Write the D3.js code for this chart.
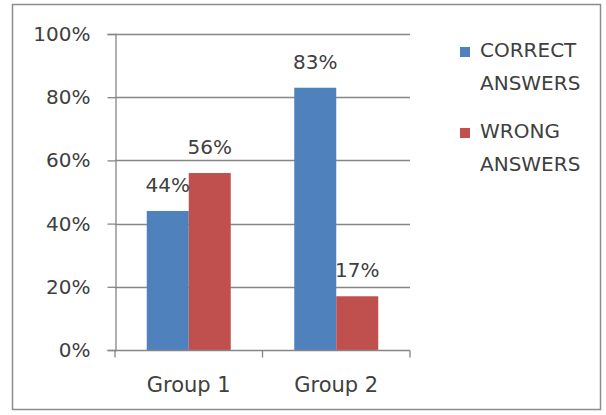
<!DOCTYPE html>
<html>
<head>
<meta charset="utf-8">
<script src="https://cdn.jsdelivr.net/npm/d3@7"></script>
<style>
  html, body { margin: 0; padding: 0; background: #fff; }
  svg { display: block; }
  text { font-family: "DejaVu Sans", "Liberation Sans", Arial, sans-serif; fill: #404040; }
</style>
</head>
<body>
<svg id="chart" width="606" height="415"></svg>
<script>
// Share of answers per group
const groups = ["Group 1", "Group 2"];
const seriesNames = ["CORRECT ANSWERS", "WRONG ANSWERS"];
const correctValues = [44, 83];
const wrongValues = [56, 17];
const yTicks = [0, 20, 40, 60, 80, 100];
const colors = ["#4F81BD", "#C0504D"];

const seriesValues = [correctValues, wrongValues];
const FONT = "DejaVu Sans, Liberation Sans, Arial, sans-serif";

const svg = d3.select("#chart");

// Outer chart frame
svg.append("rect")
  .attr("x", 12.5).attr("y", 4.5)
  .attr("width", 588).attr("height", 405)
  .attr("fill", "#fff")
  .attr("stroke", "#8c8c8c")
  .attr("stroke-width", 1.5);

const plot = { left: 115, right: 410, top: 34, bottom: 350 };

const y = d3.scaleLinear().domain([0, 100]).range([plot.bottom, plot.top]);
const x0 = d3.scaleBand().domain(groups).range([plot.left, plot.right]).paddingInner(0).paddingOuter(0);
const x1 = d3.scaleBand().domain(d3.range(seriesNames.length))
  .range([0, x0.bandwidth()]).paddingInner(0).paddingOuter(0.756);

// Horizontal gridlines
svg.append("g")
  .selectAll("line")
  .data(yTicks.filter(d => d > 0))
  .join("line")
  .attr("x1", plot.left).attr("x2", plot.right)
  .attr("y1", d => Math.round(y(d)) + 0.5).attr("y2", d => Math.round(y(d)) + 0.5)
  .attr("stroke", "#868686").attr("stroke-width", 1.3);

// Bars
const groupG = svg.append("g")
  .selectAll("g")
  .data(groups)
  .join("g")
  .attr("transform", d => `translate(${x0(d)},0)`);

groupG.selectAll("rect")
  .data((g, gi) => seriesValues.map((vals, si) => ({ si, v: vals[gi] })))
  .join("rect")
  .attr("x", d => x1(d.si))
  .attr("width", x1.bandwidth())
  .attr("y", d => y(d.v))
  .attr("height", d => y(0) - y(d.v))
  .attr("fill", d => colors[d.si]);

// Value labels
groupG.selectAll("text.val")
  .data((g, gi) => seriesValues.map((vals, si) => ({ si, v: vals[gi] })))
  .join("text")
  .attr("class", "val")
  .attr("x", d => x1(d.si) + x1.bandwidth() / 2)
  .attr("y", d => y(d.v) - 19)
  .attr("text-anchor", "middle")
  .attr("font-size", 20)
  .text(d => d.v + "%");

// Y axis
const yAxis = d3.axisLeft(y).tickValues(yTicks).tickSize(8).tickPadding(17)
  .tickFormat(d => d + "%");
const yg = svg.append("g").attr("transform", `translate(${plot.left + 0.5},0)`).call(yAxis);
yg.select(".domain").attr("stroke", "#868686").attr("stroke-width", 1.3);
yg.selectAll(".tick line").attr("stroke", "#868686").attr("stroke-width", 1.3);
yg.selectAll(".tick text").attr("font-size", 20).attr("fill", "#404040")
  .attr("font-family", FONT);

// X axis
const xAxis = d3.axisBottom(x0).tickSize(0).tickPadding(27);
const xg = svg.append("g").attr("transform", `translate(0,${plot.bottom + 0.5})`).call(xAxis);
xg.select(".domain").attr("stroke", "#868686").attr("stroke-width", 1.3).attr("d", `M${plot.left},0H${plot.right}`);
xg.selectAll(".tick text").attr("font-size", 21).attr("fill", "#404040")
  .attr("font-family", FONT);
// Category separator ticks
xg.append("g").selectAll("line")
  .data([plot.left, x0(groups[1]), plot.right])
  .join("line")
  .attr("x1", d => d).attr("x2", d => d)
  .attr("y1", 0).attr("y2", 7)
  .attr("stroke", "#868686").attr("stroke-width", 1.3);

// Legend
const legend = svg.append("g").attr("transform", "translate(460,0)");
const legendRows = [
  { lines: ["CORRECT", "ANSWERS"], top: 47 },
  { lines: ["WRONG", "ANSWERS"], top: 128 }
];
legendRows.forEach((row, i) => {
  legend.append("rect")
    .attr("x", 0).attr("y", row.top)
    .attr("width", 10).attr("height", 10)
    .attr("fill", colors[i]);
  const t = legend.append("text")
    .attr("font-size", 20)
    .attr("x", 20).attr("y", row.top + 10);
  row.lines.forEach((ln, li) => {
    t.append("tspan").attr("x", 20).attr("dy", li === 0 ? 0 : 33).text(ln);
  });
});
</script>
</body>
</html>
